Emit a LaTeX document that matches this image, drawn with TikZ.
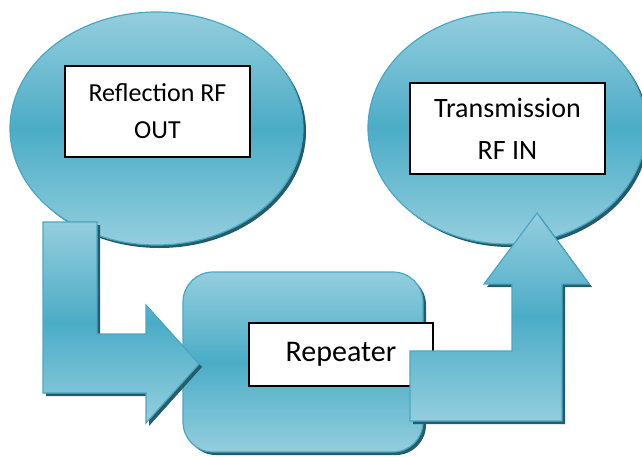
\documentclass[tikz,border=0pt]{standalone}
\usepackage{fontspec}
\setmainfont{Carlito}
\usetikzlibrary{shapes.geometric,shadows}
\definecolor{lite}{RGB}{148,206,222}
\definecolor{mid}{RGB}{75,172,198}
\definecolor{rim}{RGB}{72,168,196}
\definecolor{shd}{RGB}{36,92,107}
\tikzset{
  bubble/.style={draw=rim, line width=1.2pt, top color=lite, bottom color=lite,
    middle color=mid, general shadow={fill=shd, shadow xshift=3pt, shadow yshift=-3pt}},
  textbox/.style={draw=black, line width=1.3pt, fill=white, inner sep=0pt, align=center},
}
\begin{document}
\begin{tikzpicture}[x=1pt,y=-1pt]
  \useasboundingbox (0,0) rectangle (642,456);
  % the three blue shapes
  \node[bubble, ellipse, inner sep=0pt, minimum width=293pt, minimum height=233pt] (out) at (156.5,128.5) {};
  \node[bubble, ellipse, inner sep=0pt, minimum width=278pt, minimum height=232pt] (in) at (507,128) {};
  \node[bubble, rounded corners=30pt, minimum width=240pt, minimum height=180pt] (rep) at (303,362) {};
  % their labels
  \node[textbox, minimum width=185pt, minimum height=91pt, font=\fontsize{26}{37}\selectfont]
    (outtext) at (157.5,111.5) {Reflection RF\\OUT};
  \node[textbox, minimum width=195pt, minimum height=91pt, font=\fontsize{28}{42}\selectfont]
    (intext) at (507.5,128.5) {Transmission\\RF IN};
  \node[textbox, minimum width=184pt, minimum height=63pt, font=\fontsize{30}{36}\selectfont]
    (reptext) at (341,354.5) {Repeater};
  % bent block arrows
  \path[bubble] (43,222) -- (97,222) -- (97,334) -- (146,334) -- (146,305) -- (199,364)
    -- (146,423) -- (146,393) -- (43,393) -- cycle;
  \path[bubble] (410,351) -- (512,351) -- (512,284) -- (484,284) -- (537,213) -- (589,284)
    -- (562,284) -- (562,421) -- (410,421) -- cycle;
\end{tikzpicture}
\end{document}
